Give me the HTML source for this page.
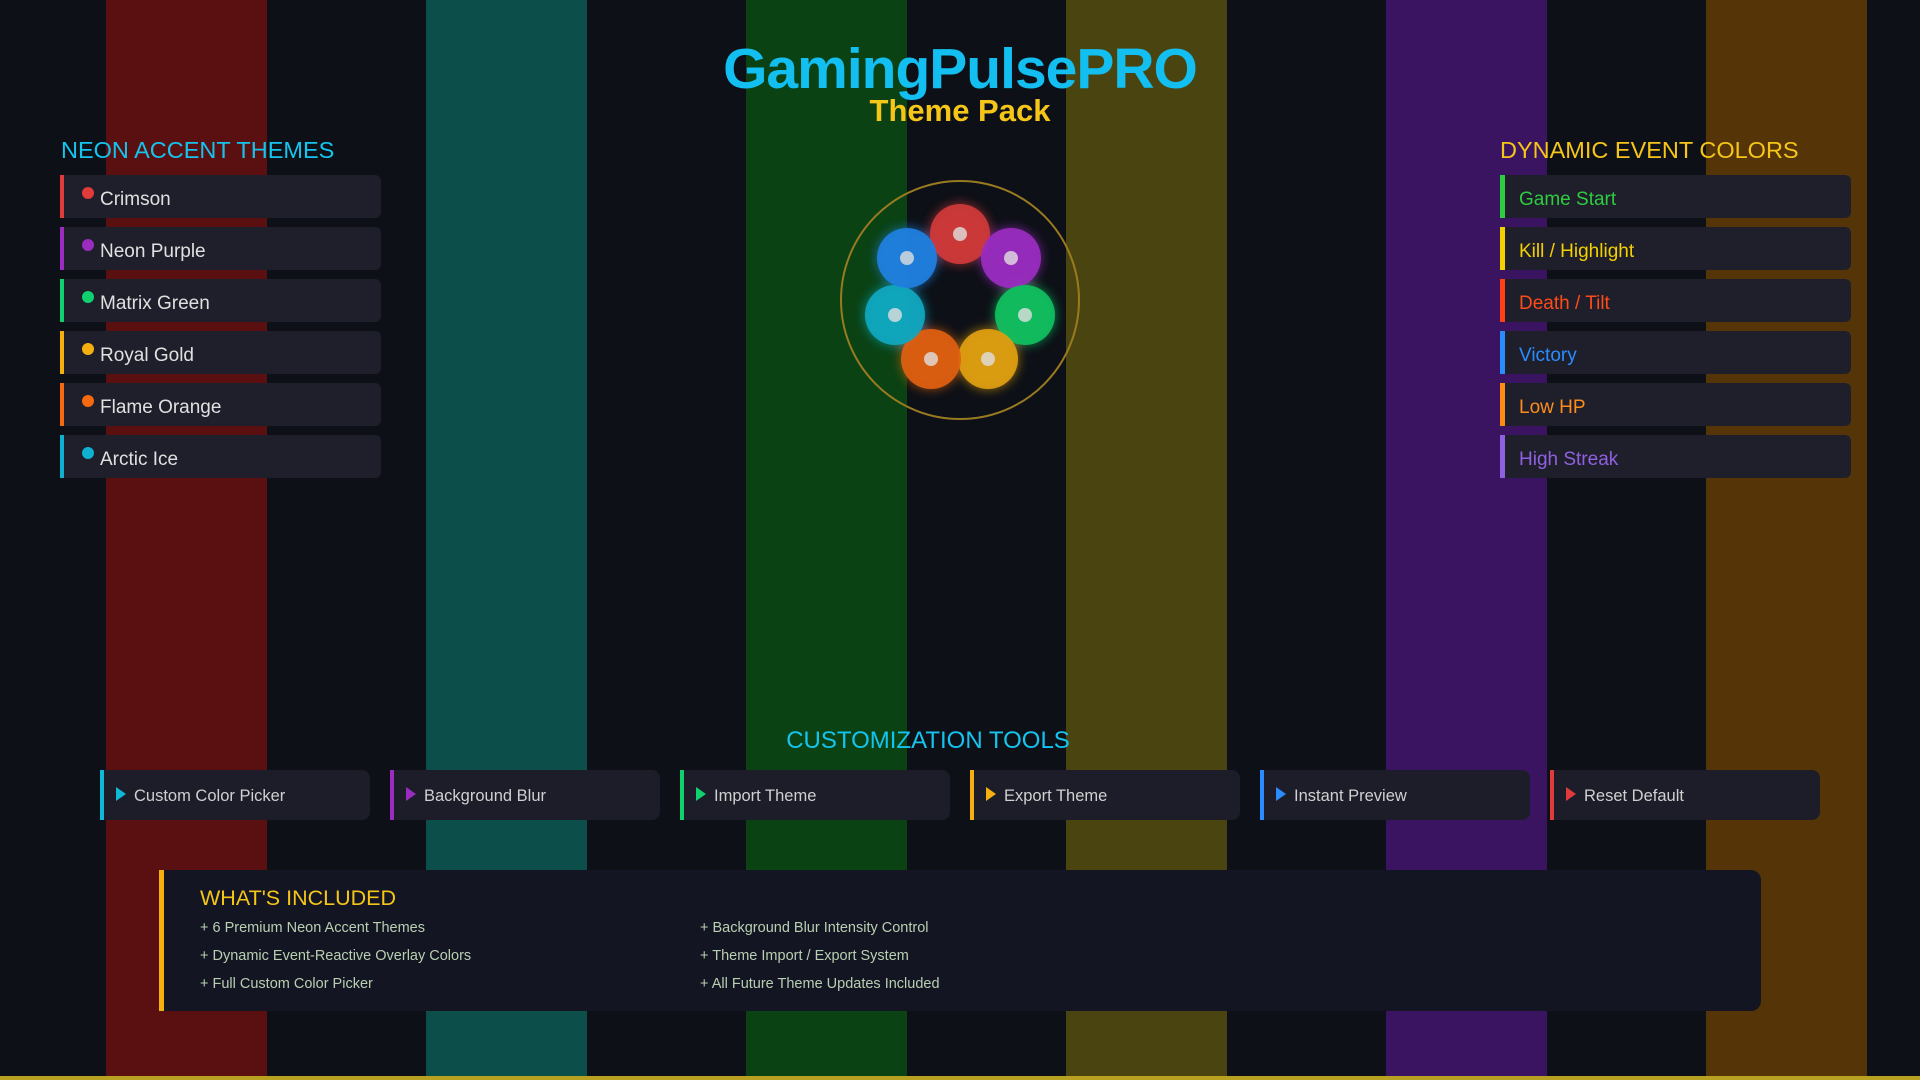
<!DOCTYPE html>
<html><head><meta charset="utf-8"><style>
*{margin:0;padding:0;box-sizing:border-box}
body{width:1920px;height:1080px;background:#0d1017;position:relative;overflow:hidden;font-family:"Liberation Sans",sans-serif}
.s{position:absolute;top:0;height:1080px;width:161px}
.a{position:absolute;white-space:nowrap}
.it{position:absolute;height:43px;background:#1e1f2b;border-radius:0 6px 6px 0;font-size:19px;line-height:49px}
.tb{position:absolute;top:770px;height:50px;width:270px;background:#1c1d29;border-radius:0 8px 8px 0;border-left:4px solid;font-size:16.5px;line-height:53px;color:#d0d0d0;padding-left:30px}
.tb i{position:absolute;left:12px;top:17px;width:0;height:0;border-top:7px solid transparent;border-bottom:7px solid transparent;border-left:10px solid}
.ln{position:absolute;font-size:14.5px;color:#b9cfb2}
.d{position:absolute;left:18px;top:12px;width:12px;height:12px;border-radius:50%}
</style></head><body>
<div class="s" style="left:106px;background:#5a1010"></div>
<div class="s" style="left:426px;background:#0c4f4a"></div>
<div class="s" style="left:746px;background:#0a4214"></div>
<div class="s" style="left:1066px;background:#4a4510"></div>
<div class="s" style="left:1386px;background:#3a1460"></div>
<div class="s" style="left:1706px;background:#553508"></div>
<div style="position:absolute;left:0;top:1076px;width:1920px;height:4px;background:#b8a020"></div>

<div class="a" style="left:0;width:1920px;text-align:center;top:36px;font-size:57px;font-weight:bold;color:#12bff0;letter-spacing:-1px">GamingPulsePRO</div>
<div class="a" style="left:0;width:1920px;text-align:center;top:93px;font-size:31px;font-weight:bold;color:#f5c518">Theme Pack</div>

<div class="a" style="left:61px;top:137px;font-size:23.5px;color:#14c4ee">NEON ACCENT THEMES</div>
<div class="a" style="left:1500px;top:137px;font-size:23.5px;color:#f5c518">DYNAMIC EVENT COLORS</div>

<div class="it" style="left:60px;top:175px;width:321px;border-left:4px solid #e03a3a;color:#e0e0e0;padding-left:36px"><span class="d" style="background:#e03a3a"></span>Crimson</div>
<div class="it" style="left:60px;top:227px;width:321px;border-left:4px solid #9a2cc0;color:#e0e0e0;padding-left:36px"><span class="d" style="background:#9a2cc0"></span>Neon Purple</div>
<div class="it" style="left:60px;top:279px;width:321px;border-left:4px solid #10d070;color:#e0e0e0;padding-left:36px"><span class="d" style="background:#10d070"></span>Matrix Green</div>
<div class="it" style="left:60px;top:331px;width:321px;border-left:4px solid #f5b010;color:#e0e0e0;padding-left:36px"><span class="d" style="background:#f5b010"></span>Royal Gold</div>
<div class="it" style="left:60px;top:383px;width:321px;border-left:4px solid #f56a10;color:#e0e0e0;padding-left:36px"><span class="d" style="background:#f56a10"></span>Flame Orange</div>
<div class="it" style="left:60px;top:435px;width:321px;border-left:4px solid #10b0d0;color:#e0e0e0;padding-left:36px"><span class="d" style="background:#10b0d0"></span>Arctic Ice</div>

<div class="it" style="left:1500px;top:175px;width:351px;border-left:5px solid #2ecc40;color:#2ecc40;padding-left:14px">Game Start</div>
<div class="it" style="left:1500px;top:227px;width:351px;border-left:5px solid #f5d000;color:#f5d000;padding-left:14px">Kill / Highlight</div>
<div class="it" style="left:1500px;top:279px;width:351px;border-left:5px solid #ff4014;color:#ff4a1a;padding-left:14px">Death / Tilt</div>
<div class="it" style="left:1500px;top:331px;width:351px;border-left:5px solid #2a8cff;color:#2a8cff;padding-left:14px">Victory</div>
<div class="it" style="left:1500px;top:383px;width:351px;border-left:5px solid #ff8c10;color:#ff8c1a;padding-left:14px">Low HP</div>
<div class="it" style="left:1500px;top:435px;width:351px;border-left:5px solid #9060e0;color:#9060e0;padding-left:14px">High Streak</div>

<svg style="position:absolute;left:0;top:0" width="1920" height="500">
<defs><filter id="g" x="-50%" y="-50%" width="200%" height="200%"><feGaussianBlur stdDeviation="5"/></filter></defs>
<circle cx="960" cy="300" r="119" fill="none" stroke="#9a7a20" stroke-width="2"/>
<g filter="url(#g)" opacity="0.6">
<circle cx="960" cy="234" r="31" fill="#d03a3a"/><circle cx="1011" cy="258" r="31" fill="#9a2cc0"/><circle cx="1025" cy="315" r="31" fill="#10c060"/><circle cx="988" cy="359" r="31" fill="#e0a010"/><circle cx="931" cy="359" r="31" fill="#e06010"/><circle cx="895" cy="315" r="31" fill="#10a8c0"/><circle cx="907" cy="258" r="31" fill="#2080e0"/>
</g>
<circle cx="960" cy="234" r="30" fill="#d03a3a" opacity=".92"/><circle cx="1011" cy="258" r="30" fill="#9a2cc0" opacity=".92"/><circle cx="1025" cy="315" r="30" fill="#10c060" opacity=".92"/><circle cx="988" cy="359" r="30" fill="#e0a010" opacity=".92"/><circle cx="931" cy="359" r="30" fill="#e06010" opacity=".92"/><circle cx="895" cy="315" r="30" fill="#10a8c0" opacity=".92"/><circle cx="907" cy="258" r="30" fill="#2080e0" opacity=".92"/>
<g fill="#e0e0e0" opacity=".8"><circle cx="960" cy="234" r="7"/><circle cx="1011" cy="258" r="7"/><circle cx="1025" cy="315" r="7"/><circle cx="988" cy="359" r="7"/><circle cx="931" cy="359" r="7"/><circle cx="895" cy="315" r="7"/><circle cx="907" cy="258" r="7"/></g>
</svg>

<div class="a" style="left:0;width:1856px;text-align:center;top:727px;font-size:24px;color:#14c4ee">CUSTOMIZATION TOOLS</div>
<div class="tb" style="left:100px;border-color:#10b8d8"><i style="border-left-color:#10b8d8"></i>Custom Color Picker</div>
<div class="tb" style="left:390px;border-color:#9a2cc0"><i style="border-left-color:#9a2cc0"></i>Background Blur</div>
<div class="tb" style="left:680px;border-color:#10d070"><i style="border-left-color:#10d070"></i>Import Theme</div>
<div class="tb" style="left:970px;border-color:#f5b010"><i style="border-left-color:#f5b010"></i>Export Theme</div>
<div class="tb" style="left:1260px;border-color:#2a8cff"><i style="border-left-color:#2a8cff"></i>Instant Preview</div>
<div class="tb" style="left:1550px;border-color:#e03a3a"><i style="border-left-color:#e03a3a"></i>Reset Default</div>

<div style="position:absolute;left:159px;top:870px;width:1602px;height:141px;background:#131522;border-left:5px solid #f5b010;border-radius:0 10px 10px 0"></div>
<div class="a" style="left:200px;top:886px;font-size:21.5px;color:#f5c518">WHAT'S INCLUDED</div>
<div class="ln" style="left:200px;top:920px">+ 6 Premium Neon Accent Themes</div>
<div class="ln" style="left:200px;top:948px">+ Dynamic Event-Reactive Overlay Colors</div>
<div class="ln" style="left:200px;top:976px">+ Full Custom Color Picker</div>
<div class="ln" style="left:700px;top:920px">+ Background Blur Intensity Control</div>
<div class="ln" style="left:700px;top:948px">+ Theme Import / Export System</div>
<div class="ln" style="left:700px;top:976px">+ All Future Theme Updates Included</div>
</body></html>
